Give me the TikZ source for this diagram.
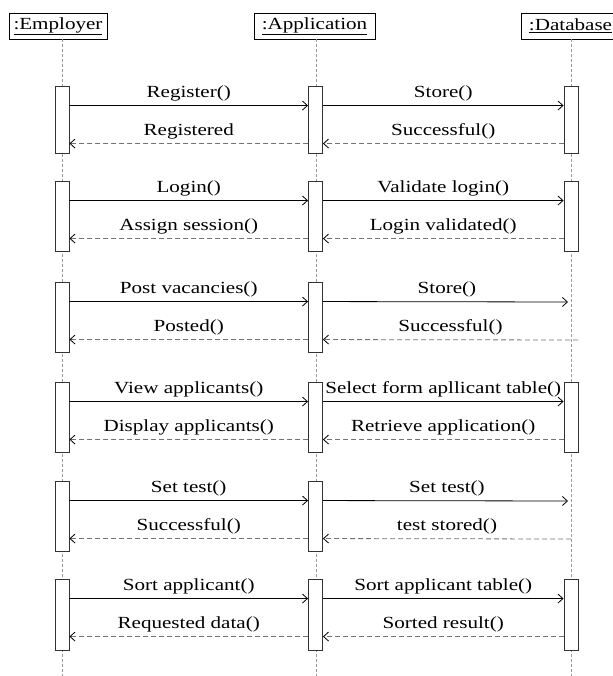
\documentclass[tikz,border=0pt]{standalone}
\usepackage{fontspec}
\setmainfont{Liberation Serif}[FakeStretch=1.24]
\usetikzlibrary{arrows.meta}

\tikzset{
  obj/.style={draw=black, line width=0.8pt, minimum height=26pt, inner sep=0pt,
    font=\fontsize{17}{20}\selectfont},
  actbar/.style={draw=black!80, line width=0.9pt, fill=white, minimum width=14pt, inner sep=0pt},
  lifeline/.style={draw=black!40, line width=0.8pt, dash pattern=on 3pt off 2pt},
  msg/.style={-{Straight Barb[length=5pt,width=9pt]}, line width=0.8pt},
  reply/.style={-{Straight Barb[length=5pt,width=9pt,black]}, draw=black!55, line width=0.8pt,
    dash pattern=on 5pt off 3pt},
  lbl/.style={anchor=base, yshift=8.5pt, inner sep=0pt, font=\fontsize{17}{20}\selectfont}
}

\begin{document}
\begin{tikzpicture}[x=1pt,y=-1pt]
\useasboundingbox[fill=white] (0,0) rectangle (612,676);

%draw object boxes
\node[obj, minimum width=98pt] (emp) at (58,26) {\underline{:Employer}};
\node[obj, minimum width=121pt] (app) at (314.5,26) {\underline{:Application}};
\node[obj, minimum width=99pt] (db) at (570.5,26) {\underline{:Database}};

%draw lifelines
\coordinate (el0) at (62,39);  \coordinate (el1) at (62,676);
\coordinate (al0) at (316,39); \coordinate (al1) at (316,676);
\coordinate (dl0) at (571,39); \coordinate (dl1) at (571,676);
\draw[lifeline] (el0) -- (el1);
\draw[lifeline] (al0) -- (al1);
\draw[lifeline] (dl0) -- (dl1);

%draw activation bars
\foreach \i/\t/\h in {1/86/67,2/181/70,3/282/70,4/382/70,5/481/70,6/579/71}
{
\node[actbar, minimum height=\h pt] (e\i) at (62,{\t+\h/2}) {};
\node[actbar, minimum height=\h pt] (a\i) at (315.5,{\t+\h/2}) {};
}
\foreach \i/\t/\h in {1/86/67,2/181/70,4/382/70,6/579/71}
\node[actbar, minimum height=\h pt] (d\i) at (571,{\t+\h/2}) {};
\coordinate (d3) at (571,282);
\coordinate (d5) at (571,481);

%block 1
\draw[msg] ([yshift=-20pt]e1.north east) -- node[lbl, midway] {Register()} ([yshift=-20pt]a1.north west);
\draw[msg] ([yshift=-20pt]a1.north east) -- node[lbl, midway] {Store()} ([yshift=-20pt]d1.north west);
\draw[reply] ([yshift=-58pt]a1.north west) -- node[lbl, midway] {Registered} ([yshift=-58pt]e1.north east);
\draw[reply] ([yshift=-58pt]d1.north west) -- node[lbl, midway] {Successful()} ([yshift=-58pt]a1.north east);

%block 2
\draw[msg] ([yshift=-20pt]e2.north east) -- node[lbl, midway] {Login()} ([yshift=-20pt]a2.north west);
\draw[msg] ([yshift=-20pt]a2.north east) -- node[lbl, midway] {Validate login()} ([yshift=-20pt]d2.north west);
\draw[reply] ([yshift=-58pt]a2.north west) -- node[lbl, midway] {Assign session()} ([yshift=-58pt]e2.north east);
\draw[reply] ([yshift=-58pt]d2.north west) -- node[lbl, midway] {Login validated()} ([yshift=-58pt]a2.north east);

%block 3
\draw[msg] ([yshift=-20pt]e3.north east) -- node[lbl, midway] {Post vacancies()} ([yshift=-20pt]a3.north west);
\draw[msg, shorten >=3pt] ([yshift=-20pt]a3.north east) -- node[lbl, midway] {Store()} ([yshift=-20pt]d3);
\draw[reply] ([yshift=-58pt]a3.north west) -- node[lbl, midway] {Posted()} ([yshift=-58pt]e3.north east);
\draw[reply] ([xshift=7pt,yshift=-58pt]d3) -- node[lbl, midway] {Successful()} ([yshift=-58pt]a3.north east);

%block 4
\draw[msg] ([yshift=-20pt]e4.north east) -- node[lbl, midway] {View applicants()} ([yshift=-20pt]a4.north west);
\draw[msg] ([yshift=-20pt]a4.north east) -- node[lbl, midway] {Select form apllicant table()} ([yshift=-20pt]d4.north west);
\draw[reply] ([yshift=-58pt]a4.north west) -- node[lbl, midway] {Display applicants()} ([yshift=-58pt]e4.north east);
\draw[reply] ([yshift=-58pt]d4.north west) -- node[lbl, midway] {Retrieve application()} ([yshift=-58pt]a4.north east);

%block 5
\draw[msg] ([yshift=-20pt]e5.north east) -- node[lbl, midway] {Set test()} ([yshift=-20pt]a5.north west);
\draw[msg, shorten >=3pt] ([yshift=-20pt]a5.north east) -- node[lbl, midway] {Set test()} ([yshift=-20pt]d5);
\draw[reply] ([yshift=-58pt]a5.north west) -- node[lbl, midway] {Successful()} ([yshift=-58pt]e5.north east);
\draw[reply] ([yshift=-58pt]d5) -- node[lbl, midway] {test stored()} ([yshift=-58pt]a5.north east);

%block 6
\draw[msg] ([yshift=-20pt]e6.north east) -- node[lbl, midway] {Sort applicant()} ([yshift=-20pt]a6.north west);
\draw[msg] ([yshift=-20pt]a6.north east) -- node[lbl, midway] {Sort applicant table()} ([yshift=-20pt]d6.north west);
\draw[reply] ([yshift=-58pt]a6.north west) -- node[lbl, midway] {Requested data()} ([yshift=-58pt]e6.north east);
\draw[reply] ([yshift=-58pt]d6.north west) -- node[lbl, midway] {Sorted result()} ([yshift=-58pt]a6.north east);

\end{tikzpicture}
\end{document}
